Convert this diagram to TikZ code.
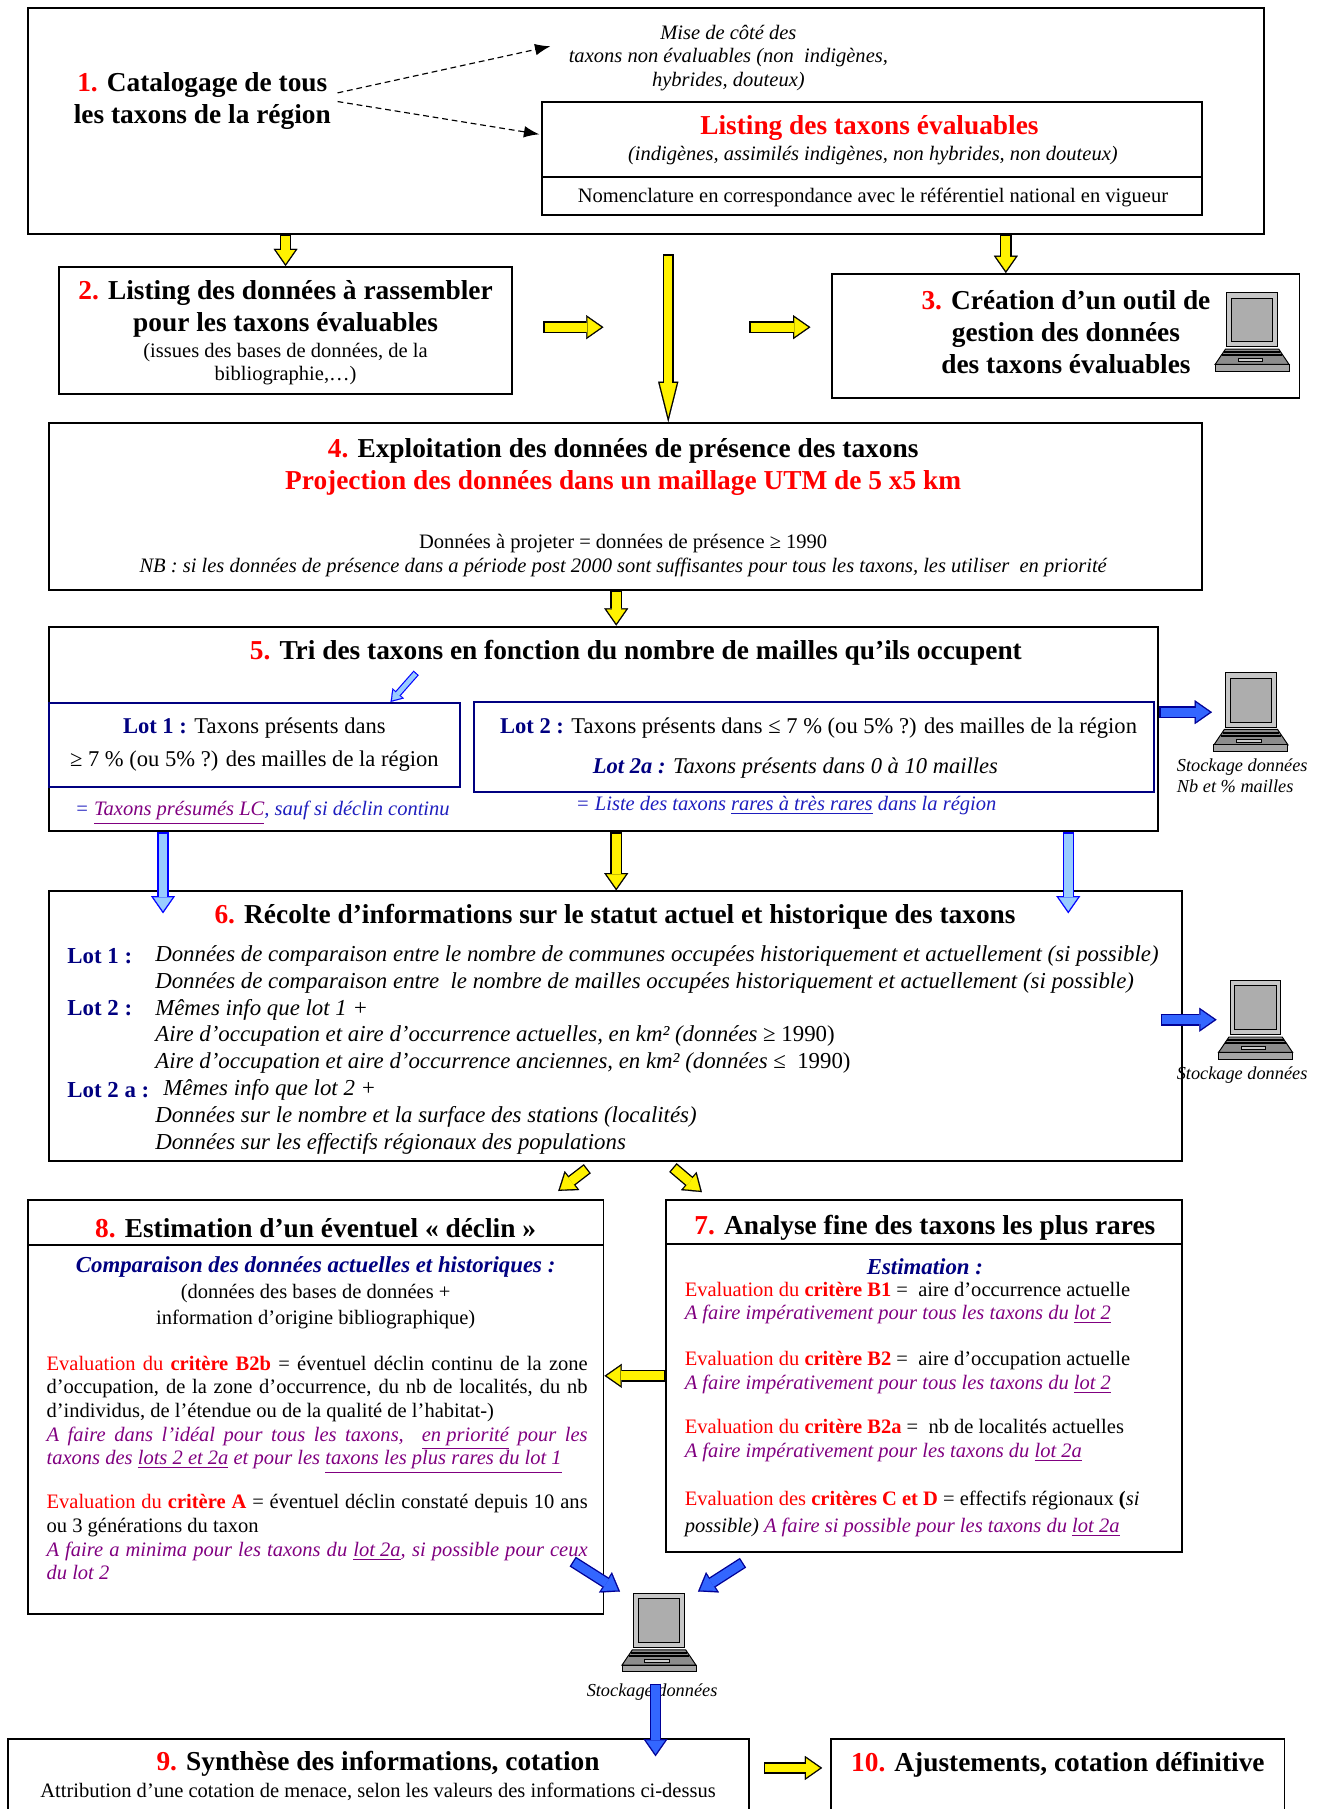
\documentclass[tikz,border=0pt]{standalone}
\usepackage{fontspec}
\setmainfont{Liberation Serif}
\usetikzlibrary{arrows.meta,calc,fit,positioning}
\setlength{\parindent}{0pt}

\definecolor{redt}{RGB}{255,0,0}
\definecolor{navyt}{RGB}{0,0,128}
\definecolor{purplet}{RGB}{128,0,128}
\definecolor{bluet}{RGB}{30,30,190}
\definecolor{bluefill}{RGB}{51,102,255}
\definecolor{bluedraw}{RGB}{0,0,150}
\definecolor{lightfill}{RGB}{153,204,255}

\newcommand{\ttlfont}{\fontsize{14.2}{16.6}\selectfont\bfseries}
\newcommand{\bdfont}{\fontsize{10.65}{12.3}\selectfont}
\newcommand{\lotfont}{\fontsize{11.7}{16.8}\selectfont}
\newcommand{\lgfont}{\fontsize{11.85}{13.9}\selectfont}
\newcommand{\cmpfont}{\fontsize{11.85}{13.4}\selectfont\bfseries\itshape}
\newcommand{\stkfont}{\fontsize{9.5}{10.8}\selectfont\itshape}
\newcommand{\rn}[1]{\textcolor{redt}{#1}}

\tikzset{
    >=Latex, node distance=1cm and 1cm, semithick,
    box/.style={draw, line width=1pt, inner sep=0pt},
    lotbox/.style={draw=navyt, line width=1pt, inner sep=0pt},
    title/.style={font=\ttlfont, align=center},
    txt/.style={font=\bdfont, align=center},
    lab/.style={anchor=west, font=\lgfont\bfseries, text=navyt, inner sep=0pt},
    crit/.style={anchor=base west, align=left, font=\bdfont, inner sep=0pt},
    just/.style={anchor=base west, text width=280.8pt, align=justify, font=\bdfont, inner sep=0pt},
    stock/.style={font=\stkfont, align=left, inner sep=2pt},
    dasharrow/.style={semithick, dash pattern=on 3pt off 2pt, -{Latex[length=8pt,width=6pt]}},
    fat/.style 2 args={line width=6pt, draw=#2, -{Triangle[length=9pt,width=12.5pt,line width=0.1pt]},
        postaction={draw=#1, line width=4.6pt, shorten >=1.25pt, shorten <=0.7pt,
            -{Triangle[length=7.1pt,width=9.9pt,line width=0.1pt]}}},
    yarrow/.style={fat={yellow}{black}},
    barrow/.style={fat={bluefill}{bluedraw}},
    lbarrow/.style={fat={lightfill}{blue}},
    smallarrow/.style={line width=3.6pt, draw=blue, -{Triangle[length=6pt,width=8pt,line width=0.1pt]},
        postaction={draw=lightfill, line width=2.4pt, shorten >=1.1pt, shorten <=0.6pt,
            -{Triangle[length=4.3pt,width=5.8pt,line width=0.1pt]}}},
    bigyarrow/.style={line width=5.8pt, draw=black, -{Triangle[length=21pt,width=10.5pt,line width=0.1pt]},
        postaction={draw=yellow, line width=4.4pt, shorten >=2.9pt, shorten <=0.7pt,
            -{Triangle[length=17.4pt,width=8.7pt,line width=0.1pt]}}},
    pc/.style={minimum width=40pt, minimum height=42pt, inner sep=0pt},
    computer/.pic={
        \begin{scope}[x=38.4pt, y=-40.8pt, shift={(-0.5,-0.5)}, line width=0.5pt]
            \draw[fill=black!22] (0.16,0) rectangle (0.84,0.69);
            \draw[fill=black!32] (0.22,0.07) rectangle (0.78,0.625);
            \draw[fill=black!45] (0.14,0.72) -- (0.86,0.72) -- (1,0.915) -- (0,0.915) -- cycle;
            \draw[line width=1pt] (0.12,0.76) -- (0.88,0.76) (0.09,0.80) -- (0.91,0.80);
            \draw[fill=black!20] (0.31,0.845) rectangle (0.64,0.88);
            \draw[fill=black!35] (0,0.915) rectangle (1,1);
        \end{scope}}
}

\begin{document}
\begin{tikzpicture}[x=0.6pt, y=-0.6pt]
    \useasboundingbox (0,0) rectangle (1140,1564.7);

    % 1. catalogage
    \node[box, fit={(24,7) (1093,202)}] (cat) {};
    \node[title] (cattxt) at (175,87) {\rn{1.} Catalogage de tous\\les taxons de la région};
    \node[txt, font=\bdfont\itshape] (mise) at (630,50) {Mise de côté des\\taxons non évaluables (non~ indigènes,\\hybrides, douteux)};
    \node[box, fit={(469,88) (1040,186)}] (eval) {};
    \draw[line width=1pt] (469,153) -- (1040,153);
    \node[title, text=redt] (evaltit) at (752,111) {Listing des taxons évaluables};
    \node[txt, font=\bdfont\itshape] (evalsub) at (755,135) {(indigènes, assimilés indigènes, non hybrides, non douteux)};
    \node[txt] (nomen) at (755,171) {Nomenclature en correspondance avec le référentiel national en vigueur};
    \path ([yshift=4pt]cattxt.east) edge[dasharrow] ([xshift=-6pt,yshift=6pt]mise.west);
    \path ([yshift=-0.5pt]cattxt.east) edge[dasharrow] ([xshift=-1pt,yshift=12.5pt]eval.west);

    % 2. et 3.
    \node[box, fit={(51,231) (443,341)}] (don) {};
    \node[title] (dontit) at (247,267) {\rn{2.} Listing des données à rassembler\\pour les taxons évaluables};
    \node[txt] (donsub) at (247,315) {(issues des bases de données, de la\\bibliographie,…)};
    \node[box, fit={(720,237) (1124,344)}] (outil) {};
    \node[title] (outiltit) at (922,287) {\rn{3.} Création d’un outil de\\gestion des données\\des taxons évaluables};
    \node[pc] (pc3) at (1083,287) {};
    \pic at (pc3) {computer};

    % 4. exploitation
    \node[box, fit={(42,366) (1040,510)}] (expl) {};
    \node[title] (expltit) at (539,404) {\rn{4.} Exploitation des données de présence des taxons\\\textcolor{redt}{Projection des données dans un maillage UTM de 5 x5 km}};
    \node[txt] (explA) at (539,470) {Données à projeter = données de présence ≥ 1990};
    \node[txt, font=\bdfont\itshape] (explB) at (539,491) {NB : si les données de présence dans a période post 2000 sont suffisantes pour tous les taxons, les utiliser~ en priorité};

    % 5. tri
    \node[box, fit={(42,542) (1002,719)}] (tri) {};
    \node[title] (tritit) at (550,565) {\rn{5.} Tri des taxons en fonction du nombre de mailles qu’ils occupent};
    \node[lotbox, fit={(42,608) (398,681)}] (lotA) {};
    \node[txt, font=\lotfont] (lotAtxt) at (220,644) {\textcolor{navyt}{\bfseries Lot 1 :} Taxons présents dans\\≥ 7 \% (ou 5\% ?) des mailles de la région};
    \node[txt, font=\bdfont\itshape, text=bluet] (lotAeq) at (227,703) {= \textcolor{purplet}{\underline{Taxons présumés LC}}, sauf si déclin continu};
    \node[lotbox, fit={(410,607) (998,685)}] (lotB) {};
    \node[txt, font=\lotfont] (lotBtxt) at (708,630) {\textcolor{navyt}{\bfseries Lot 2 :} Taxons présents dans ≤ 7 \% (ou 5\% ?) des mailles de la région};
    \node[txt, font=\lotfont\itshape] (lotBsub) at (688,664) {\textcolor{navyt}{\bfseries Lot 2a :} Taxons présents dans 0 à 10 mailles};
    \node[txt, font=\bdfont\itshape, text=bluet] (lotBeq) at (680,697) {= Liste des taxons \underline{rares à très rares} dans la région};
    \node[pc] (pc5) at (1082,616) {};
    \pic at (pc5) {computer};
    \node[stock, below=1pt of pc5, xshift=-4.5pt] (st5) {Stockage données\\Nb et \% mailles};

    % 6. recolte
    \node[box, fit={(42,771) (1022,1004)}] (rec) {};
    \node[title] (rectit) at (532,793) {\rn{6.} Récolte d’informations sur le statut actuel et historique des taxons};
    \node[lab] (lab1) at (58,827) {Lot 1 :};
    \node[lab] (lab2) at (58,872) {Lot 2 :};
    \node[lab] (lab3) at (58,943) {Lot 2 a :};
    \node[anchor=west, align=left, font=\lgfont\itshape, inner sep=0pt] (rectxt) at (134,908) {Données de comparaison entre le nombre de communes occupées historiquement et actuellement (si possible)\\
        Données de comparaison entre~ le nombre de mailles occupées historiquement et actuellement (si possible)\\
        Mêmes info que lot 1 +\\
        Aire d’occupation et aire d’occurrence actuelles, en km² (données {\upshape ≥ 1990)}\\
        Aire d’occupation et aire d’occurrence anciennes, en km² (données {\upshape ≤~ 1990)}\\
        \hspace{4.2pt}Mêmes info que lot 2 +\\
        Données sur le nombre et la surface des stations (localités)\\
        Données sur les effectifs régionaux des populations};
    \node[pc] (pc6) at (1086,882) {};
    \pic at (pc6) {computer};
    \node[stock, below=1pt of pc6, xshift=-7pt] (st6) {Stockage données};

    % 8. declin
    \node[box, fit={(24,1038) (522,1396)}] (declin) {};
    \draw[line width=1pt] (24,1077) -- (522,1077);
    \node[title] (dectit) at (273,1062) {\rn{8.} Estimation d’un éventuel «~déclin~»};
    \node[txt, font=\fontsize{10.65}{13.4}\selectfont] (deccmp) at (273,1118) {\textcolor{navyt}{\cmpfont Comparaison des données actuelles et historiques :}\\(données des bases de données +\\information d’origine bibliographique)};
    \node[just] (decpar) at (40,1185) {\textcolor{redt}{Evaluation du \textbf{critère B2b}} = éventuel déclin continu de la zone\linebreak
        d’occupation, de la zone d’occurrence, du nb de localités, du nb\linebreak
        d’individus, de l’étendue ou de la qualité de l’habitat-)\par
        {\color{purplet}\itshape A faire dans l’idéal pour tous les taxons,~ \underline{en priorité} pour les\linebreak
        taxons des \underline{lots 2 et 2a} et pour les \underline{taxons les plus rares du lot 1}\par}
        \vspace{10.5pt}
        \textcolor{redt}{Evaluation du \textbf{critère A}} = éventuel déclin constaté depuis 10 ans\linebreak
        ou 3 générations du taxon\par
        {\color{purplet}\itshape A faire a minima pour les taxons du \underline{lot 2a}, si possible pour ceux\linebreak
        du lot 2\par}};

    % 7. analyse
    \node[box, fit={(576,1038) (1022,1342)}] (ana) {};
    \draw[line width=1pt] (576,1076) -- (1022,1076);
    \node[title] (anatit) at (800,1062) {\rn{7.} Analyse fine des taxons les plus rares};
    \node[txt, font=\cmpfont, text=navyt] (anaest) at (800,1096) {Estimation :};
    \node[crit] (critB1) at (592,1141.5) {\textcolor{redt}{Evaluation du \textbf{critère B1}} =~ aire d’occurrence actuelle\\\textcolor{purplet}{\itshape A faire impérativement pour tous les taxons du \underline{lot 2}}};
    \node[crit] (critB2) at (592,1201.5) {\textcolor{redt}{Evaluation du \textbf{critère B2}} =~ aire d’occupation actuelle\\\textcolor{purplet}{\itshape A faire impérativement pour tous les taxons du \underline{lot 2}}};
    \node[crit] (critB2a) at (592,1260.5) {\textcolor{redt}{Evaluation du \textbf{critère B2a}} =~ nb de localités actuelles\\\textcolor{purplet}{\itshape A faire impérativement pour les taxons du \underline{lot 2a}}};
    \node[crit] (critCD) at (592,1325.5) {\textcolor{redt}{Evaluation des \textbf{critères C et D}} = effectifs régionaux \textbf{(}\textit{si}\\[1.6pt]\textit{possible)} \textcolor{purplet}{\itshape A faire si possible pour les taxons du \underline{lot 2a}}};
    \node[pc] (pc9) at (570,1412) {};
    \pic at (pc9) {computer};
    \node[stock, below=3pt of pc9, xshift=-3.6pt] (st9) {Stockage données};

    % 9. et 10.
    \node[box, fit={(7,1504) (648,1600)}] (syn) {};
    \node[title] (syntit) at (327,1526) {\rn{9.} Synthèse des informations, cotation};
    \node[txt] (synsub) at (327,1550) {Attribution d’une cotation de menace, selon les valeurs des informations ci-dessus};
    \node[box, fit={(719,1504) (1111,1600)}] (aju) {};
    \node[title] (ajutit) at (915,1526) {\rn{10.} Ajustements, cotation définitive};

    % fleches
    \coordinate (bigtop) at (578,220);
    \coordinate (c3) at ($(outil.north)+(-52,0)$);
    \coordinate (c45) at (533,0);
    \coordinate (h1a) at (470,283);
    \coordinate (h1b) at (522,283);
    \coordinate (h2a) at (648,283);
    \coordinate (h2b) at (701,283);
    \coordinate (dg) at (360,582);
    \coordinate (d1) at (141,790);
    \coordinate (d2) at (924,790);

    \path (cat.south -| don.north) edge[yarrow] (don.north);
    \path (cat.south -| c3) edge[yarrow] (c3);
    \path (bigtop) edge[bigyarrow] (expl.north -| bigtop);
    \path (h1a) edge[yarrow] (h1b);
    \path (h2a) edge[yarrow] (h2b);
    \path (expl.south -| c45) edge[yarrow] (tri.north -| c45);
    \path (dg) edge[smallarrow] ($(lotA.north east)+(-61,0)$);
    \path (pc5.west -| tri.east) edge[barrow] (pc5.west);
    \path (tri.south -| d1) edge[lbarrow] (d1);
    \path (tri.south -| d2) edge[lbarrow] (d2);
    \path (tri.south -| c45) edge[yarrow] (rec.north -| c45);
    \path ($(pc6.west -| rec.east)+(-19,0)$) edge[barrow] (pc6.west);
    \path ($(rec.south)+(-24,6)$) edge[yarrow] ($(declin.north east)+(-40,-7)$);
    \path ($(rec.south)+(50,5)$) edge[yarrow] ($(ana.north west)+(32,-6)$);
    \path (ana.west) edge[yarrow] (declin.east |- ana.west);
    \path ($(pc9.north west)+(-41,-26)$) edge[barrow] (pc9.north west);
    \path ($(pc9.north east)+(39,-25)$) edge[barrow] (pc9.north east);
    \path ($(pc9.south)+(-3,9)$) edge[barrow] ($(syn.north -| pc9.south)+(-3,16)$);
    \path ($(syn.north east)+(12,26)$) edge[yarrow] ($(aju.north west)+(-7,26)$);
\end{tikzpicture}
\end{document}
